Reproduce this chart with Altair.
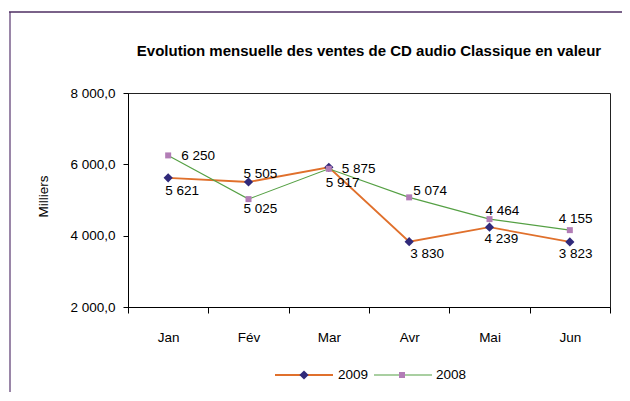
import altair as alt
import pandas as pd

# ---- data ----
months = ["Jan", "Fév", "Mar", "Avr", "Mai", "Jun"]
ventes_2009 = [5621, 5505, 5917, 3830, 4239, 3823]
ventes_2008 = [6250, 5025, 5875, 5074, 4464, 4155]
series = ["2009", "2008"]
y_ticks = [2000, 4000, 6000, 8000]
title_text = "Evolution mensuelle des ventes de CD audio Classique en valeur"
y_title = "Milliers"

df = pd.DataFrame({
    "mois": months * 2,
    "valeur": ventes_2009 + ventes_2008,
    "serie": [series[0]] * len(months) + [series[1]] * len(months),
})

# ---- styles ----
FONT = "Liberation Sans, Arial, sans-serif"
FS = 13.5
ORANGE = "#E0702C"
GREEN = "#55A044"
NAVY = "#30297A"
MAUVE = "#B27DB6"
W, H = 482, 214

# label placement (pixel offsets from each point)
label_offsets = {
    ("2009", "Jan"): (-3, 13), ("2009", "Fév"): (-5, -8), ("2009", "Mar"): (-3, 16),
    ("2009", "Avr"): (1, 12), ("2009", "Mai"): (-5, 12), ("2009", "Jun"): (-11, 12),
    ("2008", "Jan"): (13, 1), ("2008", "Fév"): (-5, 10), ("2008", "Mar"): (13, 0),
    ("2008", "Avr"): (4, -6), ("2008", "Mai"): (-4, -8), ("2008", "Jun"): (-11, -11),
}

x_enc = alt.X(
    "mois:N", sort=months,
    scale=alt.Scale(type="band", paddingInner=0, paddingOuter=0),
    axis=alt.Axis(title=None, labelAngle=0, tickBand="extent", tickSize=6,
                  labelPadding=24, labelBaseline="middle", domainColor="black",
                  tickColor="black"),
)
y_enc = alt.Y(
    "valeur:Q",
    scale=alt.Scale(domain=[2000, 8000], nice=False, zero=False),
    axis=alt.Axis(values=y_ticks, format=",.1f", title=y_title, grid=False,
                  tickSize=5, labelPadding=8, titleAngle=-90,
                  titleX=-85, titleY=103, titleAlign="center", titleBaseline="middle",
                  domainColor="black", tickColor="black"),
)

base = alt.Chart(df).encode(x=x_enc, y=y_enc)

line09 = base.transform_filter(alt.datum.serie == "2009").mark_line(color=ORANGE, strokeWidth=1.8)
pts09 = base.transform_filter(alt.datum.serie == "2009").mark_point(
    shape="diamond", filled=True, size=85, color=NAVY, opacity=1)
line08 = base.transform_filter(alt.datum.serie == "2008").mark_line(color=GREEN, strokeWidth=1.1)
pts08 = base.transform_filter(alt.datum.serie == "2008").mark_point(
    shape="square", filled=True, size=36, color=MAUVE, opacity=1)

labels = []
for (s, m), (dx, dy) in label_offsets.items():
    labels.append(
        base.transform_filter((alt.datum.serie == s) & (alt.datum.mois == m))
        .mark_text(align="left", baseline="middle", dx=dx, dy=dy, font=FONT,
                   fontSize=FS, color="black")
        .encode(text=alt.Text("valeur:Q", format=",d"))
    )

one = pd.DataFrame({"k": [0]})
frame_left = alt.Chart(one).mark_rule(color="#9A86A8", strokeWidth=2).encode(
    x=alt.value(-118), y=alt.value(-81), y2=alt.value(400))
frame_top = alt.Chart(one).mark_rule(color="#4E2E62", strokeWidth=1.5).encode(
    x=alt.value(-119), x2=alt.value(600), y=alt.value(-81))

title_mark = alt.Chart(one).mark_text(
    align="center", baseline="alphabetic", font=FONT, fontSize=15, fontWeight="bold",
    color="black", text=title_text).encode(x=alt.value(W / 2), y=alt.value(-37))

# manual legend (line + marker + text)
leg_y = 282
leg = [
    alt.Chart(one).mark_rule(color=ORANGE, strokeWidth=1.8).encode(
        x=alt.value(147), x2=alt.value(205), y=alt.value(leg_y)),
    alt.Chart(one).mark_point(shape="diamond", filled=True, size=85, color=NAVY, opacity=1).encode(
        x=alt.value(176), y=alt.value(leg_y)),
    alt.Chart(one).mark_text(align="left", baseline="middle", font=FONT, fontSize=FS,
                             color="black", text=series[0]).encode(
        x=alt.value(210), y=alt.value(leg_y)),
    alt.Chart(one).mark_rule(color=GREEN, strokeWidth=1.1).encode(
        x=alt.value(246), x2=alt.value(304), y=alt.value(leg_y)),
    alt.Chart(one).mark_point(shape="square", filled=True, size=36, color=MAUVE, opacity=1).encode(
        x=alt.value(274), y=alt.value(leg_y)),
    alt.Chart(one).mark_text(align="left", baseline="middle", font=FONT, fontSize=FS,
                             color="black", text=series[1]).encode(
        x=alt.value(308), y=alt.value(leg_y)),
]

chart = alt.layer(
    frame_left, frame_top, title_mark, line09, pts09, line08, pts08, *labels, *leg
).properties(
    width=W, height=H,
    autosize=alt.AutoSizeParams(type="none"),
    padding={"left": 120, "top": 85, "right": 12, "bottom": 85},
).configure(
    locale={"number": {"decimal": ",", "thousands": "\u00a0", "grouping": [3],
                       "currency": ["", "\u00a0€"]}},
    background="white",
).configure_axis(
    labelFont=FONT, labelFontSize=FS, labelColor="black",
    titleFont=FONT, titleFontSize=FS, titleColor="black", titleFontWeight="normal",
).configure_view(
    stroke="#222222", strokeWidth=1,
)

chart.save("out.html", embed_options={"renderer": "svg", "actions": False})
